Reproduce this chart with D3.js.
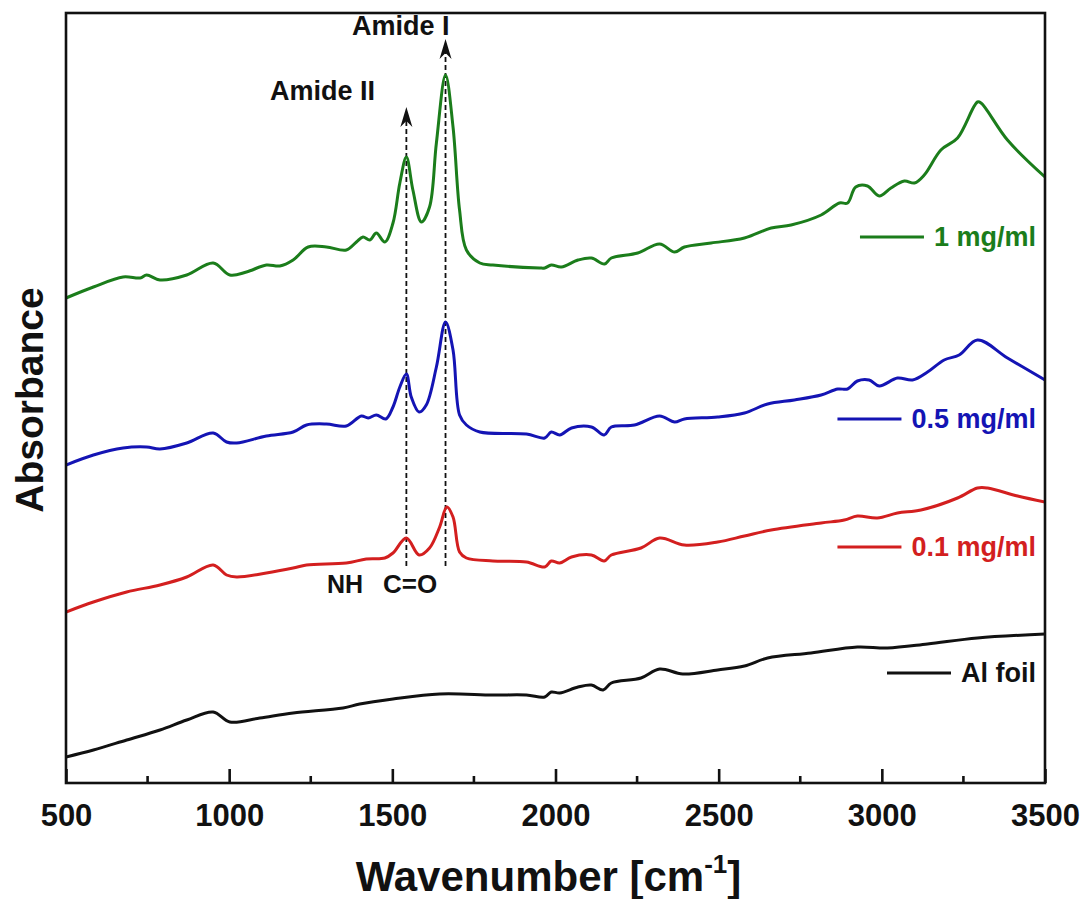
<!DOCTYPE html>
<html>
<head>
<meta charset="utf-8">
<script src="https://cdn.jsdelivr.net/npm/d3@7"></script>
<style>
    body { margin: 0; background: #fff; }
    text { font-family: "Liberation Sans", Arial, sans-serif; font-weight: bold; }
</style>
</head>
<body>
<div id="chart"></div>
<script>
// wavenumber [cm-1] / absorbance (arbitrary offset units)
const greenWave = [500, 584, 675, 727, 747, 788, 870, 951, 1002, 1053, 1114, 1155, 1196, 1242, 1298, 1359, 1390, 1410, 1431, 1451, 1477, 1502, 1523, 1543, 1563, 1589, 1614, 1635, 1663, 1686, 1706, 1727, 1768, 1808, 1951, 1967, 1987, 2018, 2069, 2110, 2150, 2171, 2252, 2319, 2365, 2395, 2477, 2579, 2661, 2722, 2814, 2870, 2895, 2920, 2956, 2992, 3028, 3069, 3100, 3130, 3181, 3232, 3293, 3304, 3385, 3500];
const greenAbs = [48.5, 49.6, 50.6, 50.5, 50.8, 50.3, 50.8, 52.0, 50.8, 51.1, 51.8, 51.7, 52.3, 53.6, 53.6, 53.3, 54.1, 54.6, 54.3, 55.0, 54.1, 56.0, 60.0, 62.6, 59.3, 56.1, 57.6, 64.0, 70.8, 65.6, 57.3, 53.3, 52.0, 51.8, 51.5, 51.5, 51.8, 51.6, 52.3, 52.5, 51.9, 52.5, 53.0, 53.9, 53.1, 53.6, 54.0, 54.5, 55.5, 55.8, 56.8, 58.0, 58.0, 59.6, 59.7, 58.7, 59.5, 60.2, 60.0, 60.8, 63.3, 64.5, 68.1, 68.0, 64.3, 60.6];

const blueWave = [500, 584, 675, 747, 788, 870, 951, 992, 1023, 1114, 1196, 1237, 1298, 1359, 1405, 1426, 1451, 1480, 1502, 1523, 1543, 1558, 1582, 1604, 1635, 1663, 1686, 1706, 1727, 1768, 1911, 1967, 1987, 2013, 2049, 2110, 2149, 2171, 2242, 2319, 2365, 2395, 2497, 2579, 2650, 2732, 2814, 2865, 2895, 2925, 2961, 2992, 3048, 3094, 3140, 3191, 3237, 3293, 3385, 3500];
const blueAbs = [31.8, 32.8, 33.5, 33.6, 33.4, 34.0, 35.0, 34.1, 34.0, 34.7, 35.1, 35.8, 35.9, 35.7, 36.7, 36.5, 36.8, 36.4, 37.6, 39.6, 40.9, 38.6, 37.1, 37.8, 41.6, 46.1, 43.3, 36.8, 35.8, 35.1, 34.9, 34.5, 35.1, 34.8, 35.5, 35.6, 34.8, 35.6, 35.8, 36.7, 36.1, 36.4, 36.6, 37.0, 37.9, 38.3, 38.8, 39.4, 39.4, 40.2, 40.3, 39.7, 40.5, 40.3, 41.1, 42.3, 42.8, 44.3, 42.5, 40.3];

const redWave = [500, 584, 686, 788, 870, 951, 992, 1023, 1114, 1196, 1237, 1359, 1420, 1477, 1502, 1543, 1582, 1614, 1645, 1667, 1686, 1706, 1727, 1808, 1911, 1967, 1987, 2013, 2049, 2110, 2149, 2171, 2262, 2319, 2395, 2497, 2579, 2661, 2814, 2885, 2925, 2986, 3048, 3120, 3232, 3293, 3324, 3416, 3500];
const redAbs = [17.1, 18.1, 19.1, 19.8, 20.6, 21.8, 20.8, 20.6, 21.0, 21.5, 21.8, 22.0, 22.4, 22.5, 23.0, 24.5, 22.8, 23.5, 25.6, 27.6, 26.6, 23.1, 22.5, 22.2, 22.1, 21.6, 22.2, 22.0, 22.6, 22.8, 22.2, 22.8, 23.5, 24.5, 23.8, 24.1, 24.7, 25.3, 26.0, 26.3, 26.7, 26.5, 27.0, 27.3, 28.5, 29.5, 29.5, 28.7, 28.1];

const blackWave = [500, 584, 686, 788, 870, 951, 1002, 1094, 1196, 1349, 1400, 1502, 1645, 1808, 1911, 1967, 1987, 2013, 2069, 2110, 2146, 2171, 2262, 2319, 2390, 2497, 2579, 2650, 2783, 2925, 3017, 3140, 3293, 3500];
const blackAbs = [2.6, 3.3, 4.3, 5.3, 6.3, 7.1, 6.1, 6.5, 7.0, 7.5, 7.9, 8.4, 8.9, 8.8, 8.8, 8.6, 9.1, 9.0, 9.6, 9.8, 9.3, 10.0, 10.5, 11.4, 10.9, 11.3, 11.7, 12.5, 13.0, 13.6, 13.5, 13.9, 14.5, 14.9];

const seriesNames = ['1 mg/ml', '0.5 mg/ml', '0.1 mg/ml', 'Al foil'];
const seriesColors = ['#1b7d1b', '#1414b4', '#d31f1f', '#111111'];

const xTicks = [500, 1000, 1500, 2000, 2500, 3000, 3500];

// amide peak markers: wavenumber, arrow tip and foot (absorbance units)
const peakWave = [1543, 1663];
const peakTop = [67.6, 74.4];
const peakFoot = 21.7;

const svgW = 1083, svgH = 899;
const margin = { top: 13, right: 38, bottom: 116, left: 66 };
const width = svgW - margin.left - margin.right;
const height = svgH - margin.top - margin.bottom;

const svg = d3.select('#chart').append('svg')
    .attr('width', svgW)
    .attr('height', svgH);

const g = svg.append('g')
    .attr('transform', `translate(${margin.left},${margin.top})`);

const x = d3.scaleLinear().domain([500, 3500]).range([0, width]);
const y = d3.scaleLinear().domain([0, 77]).range([height, 0]);

const series = [
    { name: seriesNames[0], color: seriesColors[0], wave: greenWave, abs: greenAbs },
    { name: seriesNames[1], color: seriesColors[1], wave: blueWave, abs: blueAbs },
    { name: seriesNames[2], color: seriesColors[2], wave: redWave, abs: redAbs },
    { name: seriesNames[3], color: seriesColors[3], wave: blackWave, abs: blackAbs }
];

const line = d3.line()
    .x(d => x(d[0]))
    .y(d => y(d[1]))
    .curve(d3.curveCatmullRom.alpha(0.5));

g.append('defs').append('clipPath').attr('id', 'clip')
    .append('rect').attr('width', width).attr('height', height);

// dashed peak markers with arrowheads
peakWave.forEach((w, i) => {
    let px = x(w);
    let tip = y(peakTop[i]);
    g.append('line')
        .attr('x1', px).attr('x2', px)
        .attr('y1', y(peakFoot)).attr('y2', tip + 12)
        .attr('stroke', '#111')
        .attr('stroke-width', 1.8)
        .attr('stroke-dasharray', '5,3');
    g.append('path')
        .attr('d', `M${px},${tip} L${px - 6},${tip + 20} L${px},${tip + 14} L${px + 6},${tip + 20} Z`)
        .attr('fill', '#111');
});

g.append('g').attr('clip-path', 'url(#clip)')
    .selectAll('path')
    .data(series)
    .join('path')
    .attr('d', d => line(d.wave.map((w, i) => [w, d.abs[i]])))
    .attr('fill', 'none')
    .attr('stroke', d => d.color)
    .attr('stroke-width', 3)
    .attr('stroke-linejoin', 'round');

// frame
g.append('rect')
    .attr('width', width)
    .attr('height', height)
    .attr('fill', 'none')
    .attr('stroke', '#111')
    .attr('stroke-width', 2.6);

// bottom axis, ticks pointing inward
const xAxis = d3.axisBottom(x)
    .tickValues(xTicks)
    .tickSize(-14)
    .tickFormat(d3.format('d'));
const axG = g.append('g')
    .attr('transform', `translate(0,${height})`)
    .call(xAxis);
axG.select('.domain').remove();
axG.selectAll('.tick line').attr('stroke', '#111').attr('stroke-width', 2.6);
axG.selectAll('.tick text')
    .attr('y', 43)
    .attr('dy', 0)
    .attr('fill', '#111')
    .style('font-size', '31px')
    .style('font-family', '"Liberation Sans", Arial, sans-serif')
    .style('font-weight', 'bold');

const minorTicks = d3.range(750, 3500, 500);
g.append('g').selectAll('line')
    .data(minorTicks)
    .join('line')
    .attr('x1', d => x(d)).attr('x2', d => x(d))
    .attr('y1', height).attr('y2', height - 7)
    .attr('stroke', '#111')
    .attr('stroke-width', 2.6);

// axis titles
const xTitle = svg.append('text')
    .attr('x', margin.left + width / 2 - 7)
    .attr('y', 891)
    .attr('text-anchor', 'middle')
    .style('font-size', '42px')
    .attr('fill', '#111');
xTitle.append('tspan').text('Wavenumber [cm');
xTitle.append('tspan').text('-1').attr('dy', -18).style('font-size', '26px');
xTitle.append('tspan').text(']').attr('dy', 18);

svg.append('text')
    .attr('transform', `translate(43,${margin.top + height / 2 + 2}) rotate(-90)`)
    .attr('text-anchor', 'middle')
    .style('font-size', '39px')
    .attr('fill', '#111')
    .text('Absorbance');

// peak labels
const labels = [
    { t: 'Amide I', x: 352, y: 35, size: 27 },
    { t: 'Amide II', x: 270, y: 100, size: 27 },
    { t: 'NH', x: 327, y: 593, size: 25 },
    { t: 'C=O', x: 383, y: 593, size: 26 }
];
svg.selectAll('.peakLabel')
    .data(labels)
    .join('text')
    .attr('class', 'peakLabel')
    .attr('x', d => d.x)
    .attr('y', d => d.y)
    .style('font-size', d => d.size + 'px')
    .attr('fill', '#111')
    .text(d => d.t);

// legend labels next to each trace
const legendY = [237, 419, 547, 673];
series.forEach((s, i) => {
    let txt = svg.append('text')
        .attr('x', 1036)
        .attr('y', legendY[i] + 9)
        .attr('text-anchor', 'end')
        .style('font-size', '27px')
        .attr('fill', s.color)
        .text(s.name);
    let start = 1036 - txt.node().getComputedTextLength();
    svg.append('line')
        .attr('x1', start - 74).attr('x2', start - 10)
        .attr('y1', legendY[i]).attr('y2', legendY[i])
        .attr('stroke', s.color)
        .attr('stroke-width', 3);
});
</script>
</body>
</html>
